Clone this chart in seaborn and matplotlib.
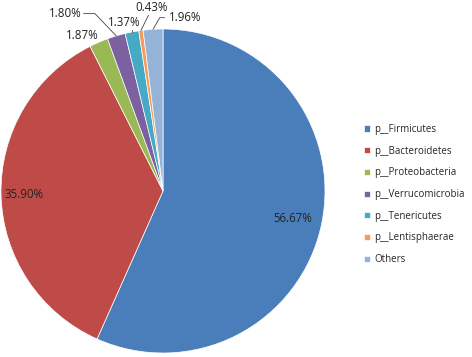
import numpy as np
import matplotlib
matplotlib.use("Agg")
import matplotlib.pyplot as plt
import seaborn as sns

sns.set_theme(style="white")
plt.rcParams['font.family'] = ['Open Sans', 'DejaVu Sans']

phyla = ['p__Firmicutes', 'p__Bacteroidetes', 'p__Proteobacteria', 'p__Verrucomicrobia',
         'p__Tenericutes', 'p__Lentisphaerae', 'Others']
shares = [56.67, 35.90, 1.87, 1.80, 1.37, 0.43, 1.96]
colors = ['#4A7EBB', '#BE4B48', '#98B954', '#7D60A0', '#46AAC5', '#F59D56', '#95B3D7']

fig = plt.figure(figsize=(4.72, 3.57), dpi=100)
ax = fig.add_axes([1 / 472, 4 / 357, 324 / 472, 324 / 357])

wedges, _ = ax.pie(shares, colors=colors, startangle=90, counterclock=False,
                   wedgeprops=dict(edgecolor='white', linewidth=0.5))
ax.set_xlim(-1, 1)
ax.set_ylim(-1, 1)

# inside labels for the two big slices
for i, r in [(0, 0.82), (1, 0.86)]:
    w = wedges[i]
    mid = np.deg2rad((w.theta1 + w.theta2) / 2)
    ax.text(r * np.cos(mid), r * np.sin(mid), f'{shares[i]:.2f}%', ha='center', va='center',
            fontsize=8.3, color='#222222')

# outside labels with leader lines for the small slices
text_pos = {2: (-0.50, 0.96), 3: (-0.60, 1.095), 4: (-0.24, 1.04), 5: (-0.07, 1.135), 6: (0.14, 1.07)}
for i, (tx, ty) in text_pos.items():
    w = wedges[i]
    mid = np.deg2rad((w.theta1 + w.theta2) / 2)
    ex, ey = np.cos(mid), np.sin(mid)
    ax.text(tx, ty, f'{shares[i]:.2f}%', ha='center', va='center', fontsize=8.3, color='#222222')
    if i == 3:
        ax.plot([tx + 0.11, tx + 0.18, ex], [ty, ty, ey], color='#444444', lw=0.6, clip_on=False)
    elif i == 4:
        ax.plot([ex, ex], [ty - 0.045, ey], color='#444444', lw=0.6, clip_on=False)
    elif i == 5:
        ax.plot([tx - 0.02, ex], [ty - 0.05, ey], color='#444444', lw=0.6, clip_on=False)
    elif i == 6:
        ax.plot([tx - 0.13, tx - 0.16, ex], [ty, ty, ey], color='#444444', lw=0.6, clip_on=False)

leg = fig.legend(wedges, phyla, loc='center left', bbox_to_anchor=(0.752, 0.455), frameon=False,
                 fontsize=7, handlelength=0.6, handleheight=0.6, handletextpad=0.45,
                 labelspacing=1.1)

fig.savefig('out.png', dpi=100)
